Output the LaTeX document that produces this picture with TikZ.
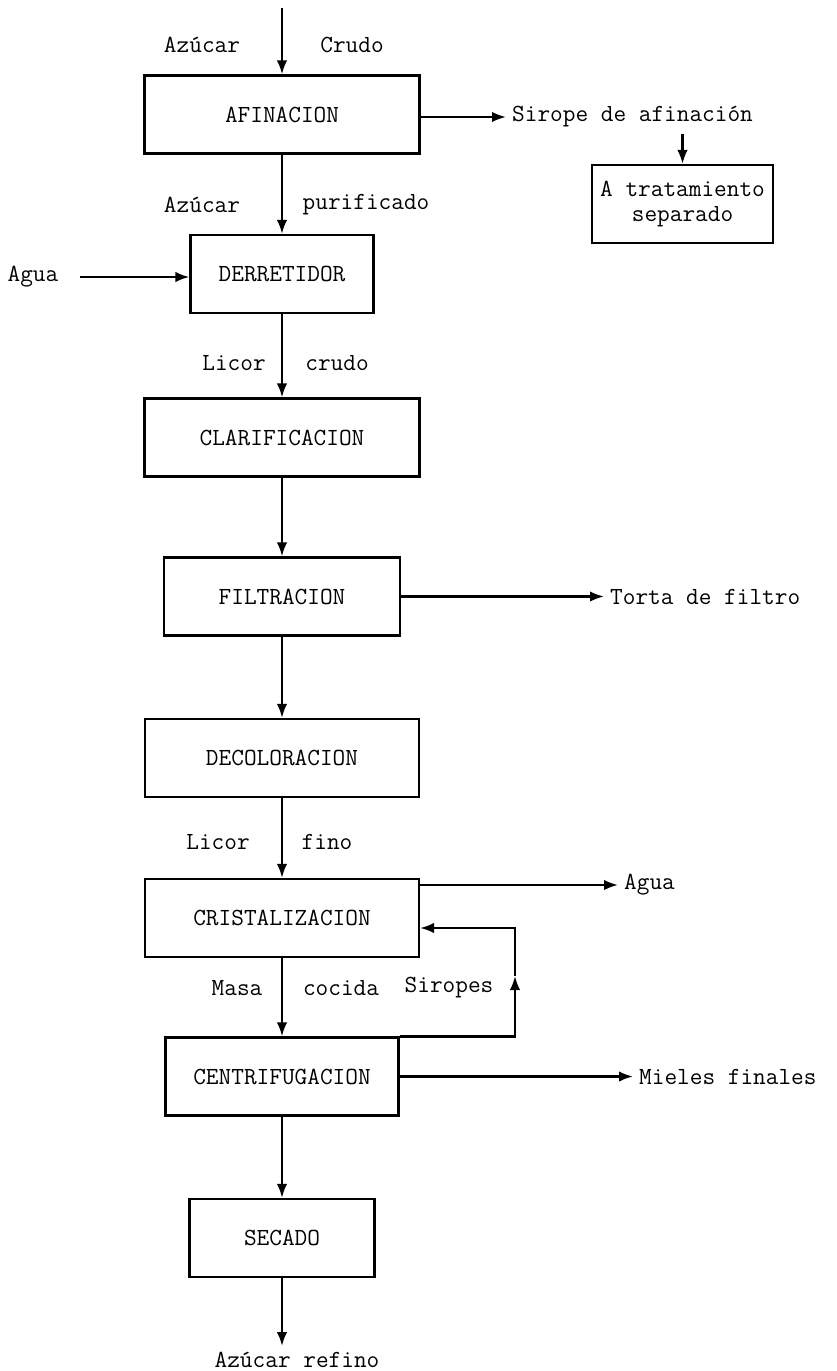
\documentclass[tikz,border=0pt]{standalone}
\usepackage{fontspec}
\usetikzlibrary{arrows.meta}

\begin{document}
\begin{tikzpicture}[
  x=0.02cm, y=-0.02cm,
  >={Latex[length=2.8mm, width=2.1mm]},
  every node/.style={font=\ttfamily\fontsize{14}{14.5}\selectfont},
  stagebox/.style={draw, line width=1.3pt, align=center, minimum height=1.56cm},
  arr/.style={->, line width=1.3pt},
  lin/.style={line width=1.3pt},
]
\useasboundingbox (0,0) rectangle (836,1371);

%% -- Stages ------------------------------------------------------------------
\node[stagebox, minimum width=5.5cm]  (afin) at (282, 114.5) {AFINACION};
\node[stagebox, minimum width=3.66cm] (derr) at (282, 274)   {DERRETIDOR};
\node[stagebox, minimum width=5.5cm]  (clar) at (282, 437.5) {CLARIFICACION};
\node[stagebox, minimum width=4.72cm] (filt) at (282, 596.5) {FILTRACION};
\node[stagebox, minimum width=5.48cm] (deco) at (282, 758)   {DECOLORACION};
\node[stagebox, minimum width=5.48cm] (cris) at (282, 918)   {CRISTALIZACION};
\node[stagebox, minimum width=4.66cm] (cent) at (282, 1076.5) {CENTRIFUGACION};
\node[stagebox, minimum width=3.7cm]  (seca) at (282, 1238)  {SECADO};

\node[stagebox, minimum width=3.62cm] (trat) at (682.5, 204)
  {A tratamiento\\separado};

%% -- Streams in and out ------------------------------------------------------
\coordinate (crudoIn) at (282, 8);
\node (crudoL) at (202, 45) {Azúcar};
\node (crudoR) at (352, 45) {Crudo};

\node[anchor=west] (sirope) at (506, 117) {Sirope de afinación};

\node (puriL) at (202, 205) {Azúcar};
\node (puriR) at (366, 205) {purificado};

\node (aguaIn) at (33, 277) {Agua};

\node (licorL) at (234, 363) {Licor};
\node (licorR) at (337, 363) {crudo};

\node[anchor=west] (torta) at (604, 596.5) {Torta de filtro};

\node (finoL) at (218, 842) {Licor};
\node (finoR) at (327, 842) {fino};

\node[anchor=west] (aguaOut) at (618, 885) {Agua};

\node (masaL) at (237, 988) {Masa};
\node (masaR) at (341, 988) {cocida};
\node (siropes) at (449, 988) {Siropes};

\node[anchor=west] (mieles) at (633, 1076.5) {Mieles finales};

\node (refino) at (297, 1360) {Azúcar refino};

\coordinate (recUp) at (515, 976);

%% -- Arrows ------------------------------------------------------------------
\draw[arr] (crudoIn) -- (afin);
\draw[arr] (afin.east |- sirope) -- (sirope);
\draw[arr] (trat.north |- sirope.south) -- (trat.north);
\draw[arr] (afin) -- (derr);
\draw[arr, shorten <=0.3cm] (aguaIn) -- (derr.west |- aguaIn);
\draw[arr] (derr) -- (clar);
\draw[arr] (clar) -- (filt);
\draw[arr] (filt) -- (torta);
\draw[arr] (filt) -- (deco);
\draw[arr] (deco) -- (cris);
\draw[arr] (cris.east |- aguaOut) -- (aguaOut);
\draw[arr] (cris) -- (cent);

%% syrups go back to the crystallizer
\draw[arr] (cent.north east) -| (recUp);
\draw[arr] (recUp) |- ([yshift=-0.2cm]cris.east);

\draw[arr] (cent) -- (mieles);
\draw[arr] (cent) -- (seca);
\draw[arr] (seca.south) -- (seca.south |- refino.north);

\end{tikzpicture}
\end{document}
